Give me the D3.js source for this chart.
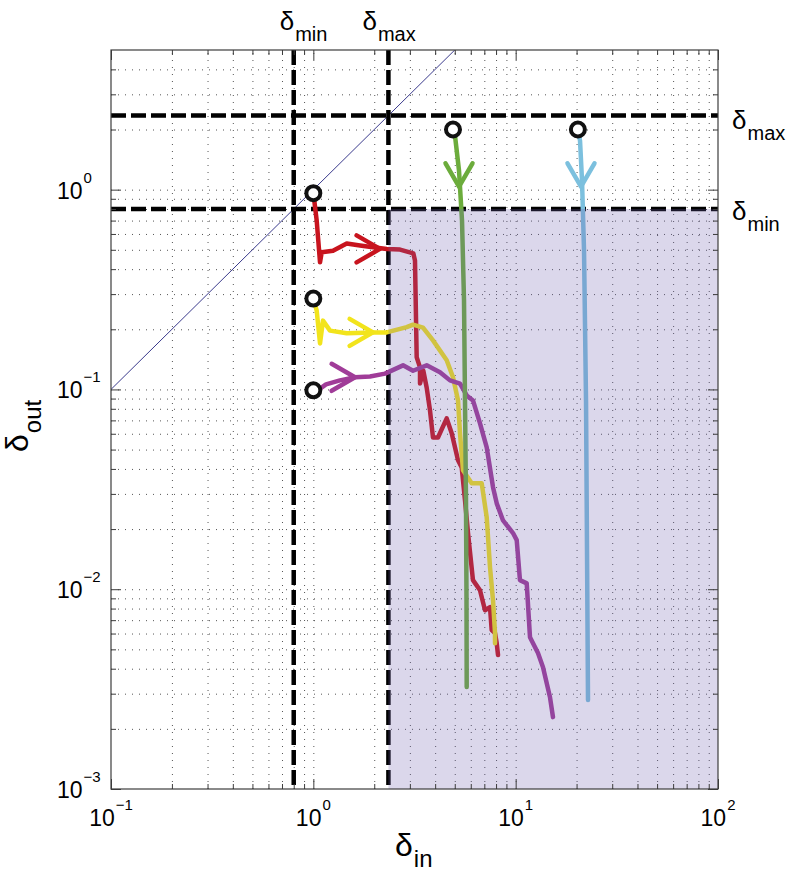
<!DOCTYPE html>
<html><head><meta charset="utf-8">
<script src="https://cdn.jsdelivr.net/npm/d3@7"></script>
<style>
body{margin:0;background:#fff}
svg{display:block}
text{font-family:"Liberation Sans",Arial,Helvetica,sans-serif;fill:#000}
</style>
</head><body>
<svg id="chart" width="787" height="876"></svg>
<script>
// ---------- data ----------
const xDomain = [0.1, 100];
const yDomain = [0.001, 5];
const xMajorTicks = [0.1, 1, 10, 100];
const xTickExponents = ["\u22121", "0", "1", "2"];
const yMajorTicks = [0.001, 0.01, 0.1, 1];
const yTickExponents = ["\u22123", "\u22122", "\u22121", "0"];
const deltaMin = 0.8;
const deltaMax = 2.35;
const diagonalX = [0.1, 5];
const diagonalY = [0.1, 5];

const seriesNames = ["red", "yellow", "purple", "green", "blue"];

const redX = [1.0, 1.011, 1.039, 1.058, 1.079, 1.10, 1.251, 1.462, 1.701, 1.972, 2.305, 2.682, 3.12, 3.18, 3.242, 3.367, 3.367, 3.496, 3.633, 3.772, 3.903, 4.131, 4.562, 4.829, 5.189, 5.412, 5.618, 5.813, 6.152, 6.664, 7.055, 7.467, 7.612, 7.905, 8.060, 8.18];
const redY = [0.96, 0.881, 0.700, 0.556, 0.433, 0.486, 0.495, 0.537, 0.525, 0.515, 0.505, 0.501, 0.480, 0.442, 0.145, 0.129, 0.107, 0.124, 0.102, 0.0785, 0.0575, 0.0575, 0.0716, 0.0603, 0.0442, 0.0407, 0.0279, 0.0191, 0.0111, 0.00989, 0.00785, 0.00813, 0.00624, 0.00603, 0.00537, 0.00468];

const yellowX = [1.0, 1.039, 1.079, 1.116, 1.209, 1.462, 1.972, 2.305, 2.894, 3.109, 3.483, 3.903, 4.562, 4.901, 5.189, 5.308, 5.492, 6.062, 6.794, 7.193, 7.467, 7.727, 7.905, 7.905];
const yellowY = [0.285, 0.248, 0.170, 0.221, 0.197, 0.191, 0.193, 0.193, 0.205, 0.211, 0.204, 0.176, 0.140, 0.115, 0.0881, 0.0603, 0.0394, 0.0339, 0.0339, 0.0229, 0.0129, 0.00881, 0.00603, 0.00537];

const purpleX = [1.0, 1.08, 1.155, 1.354, 1.607, 1.906, 2.261, 2.775, 3.109, 3.633, 4.227, 4.736, 5.308, 5.728, 6.152, 6.664, 7.193, 7.727, 8.060, 8.66, 9.70, 10.12, 10.50, 11.34, 11.77, 12.89, 13.65, 14.78, 15.29];
const purpleY = [0.099, 0.101, 0.106, 0.111, 0.115, 0.116, 0.120, 0.132, 0.124, 0.132, 0.122, 0.111, 0.107, 0.0933, 0.0881, 0.0676, 0.0513, 0.0324, 0.0269, 0.0221, 0.0191, 0.0176, 0.0111, 0.0107, 0.00575, 0.00479, 0.00407, 0.00288, 0.00229];

const greenX = [4.9, 5.014, 5.248, 5.431, 5.555, 5.618, 5.682, 5.715, 5.728];
const greenY = [2.0, 1.862, 1.245, 0.700, 0.279, 0.0881, 0.0279, 0.00881, 0.00324];

const blueX = [20.3, 20.8, 21.28, 21.77, 22.27, 22.52, 22.78];
const blueY = [2.0, 1.758, 1.109, 0.495, 0.0881, 0.0157, 0.00279];

// arrow heads (tip position in data units, pointing direction)
const arrowSeries = ["red", "yellow", "purple", "green", "blue"];
const arrowX = [2.135, 1.972, 1.607, 5.248, 21.03];
const arrowY = [0.505, 0.193, 0.115, 1.035, 1.035];
const arrowDir = ["right", "right", "right", "down", "down"];

// ---------- styles ----------
const colors = {red: "#c8141e", yellow: "#f2e41c", purple: "#a03c98", green: "#6cac3c", blue: "#7cc0de"};
const pLeft = 111, pRight = 718, pTop = 50, pBottom = 789;

const svg = d3.select("#chart");
const x = d3.scaleLog().domain(xDomain).range([pLeft, pRight]);
const y = d3.scaleLog().domain(yDomain).range([pBottom, pTop]);

svg.append("defs").append("clipPath").attr("id", "clip")
  .append("rect").attr("x", pLeft).attr("y", pTop).attr("width", pRight - pLeft).attr("height", pBottom - pTop);

// ---------- grid ----------
const xGridVals = x.ticks().filter(v => v > xDomain[0] * 1.0001 && v < xDomain[1] * 0.9999);
const yGridVals = y.ticks().filter(v => v > yDomain[0] * 1.0001 && v < yDomain[1] * 0.9999);

const grid = svg.append("g").attr("class", "grid");
grid.append("g").attr("transform", `translate(0,${pBottom})`)
  .call(d3.axisBottom(x).tickValues(xGridVals).tickSize(-(pBottom - pTop)).tickFormat(""))
  .call(g => g.select(".domain").remove());
grid.append("g").attr("transform", `translate(${pLeft},0)`)
  .call(d3.axisLeft(y).tickValues(yGridVals).tickSize(-(pRight - pLeft)).tickFormat(""))
  .call(g => g.select(".domain").remove());
grid.selectAll("line").attr("stroke", "#555").attr("stroke-width", 1).attr("stroke-dasharray", "1 6");

const plot = svg.append("g").attr("clip-path", "url(#clip)");

// diagonal
plot.append("line")
  .attr("x1", x(diagonalX[0])).attr("y1", y(diagonalY[0]))
  .attr("x2", x(diagonalX[1])).attr("y2", y(diagonalY[1]))
  .attr("stroke", "#3a3a8c").attr("stroke-width", 1);

// dashed threshold lines
const dashStyle = g => g.attr("stroke", "#000").attr("stroke-width", 4.5).attr("stroke-dasharray", "15 5");
[deltaMin, deltaMax].forEach(v => {
  plot.append("line").attr("x1", x(v)).attr("x2", x(v)).attr("y1", pTop).attr("y2", pBottom).call(dashStyle);
  plot.append("line").attr("x1", pLeft).attr("x2", pRight).attr("y1", y(v)).attr("y2", y(v)).call(dashStyle);
});

// trajectories
const seriesData = {
  red: d3.zip(redX, redY), yellow: d3.zip(yellowX, yellowY), purple: d3.zip(purpleX, purpleY),
  green: d3.zip(greenX, greenY), blue: d3.zip(blueX, blueY)
};
const line = d3.line().x(d => x(d[0])).y(d => y(d[1]));
seriesNames.forEach(n => {
  plot.append("path").attr("d", line(seriesData[n])).attr("fill", "none")
    .attr("stroke", colors[n]).attr("stroke-width", 4.5)
    .attr("stroke-linejoin", "round").attr("stroke-linecap", "round");
});

// arrow heads
const armLen = 27, armAng = Math.PI / 6;
arrowSeries.forEach((n, i) => {
  const tx = x(arrowX[i]), ty = y(arrowY[i]);
  const th = arrowDir[i] === "right" ? 0 : Math.PI / 2;
  const a1 = [tx - armLen * Math.cos(th - armAng), ty - armLen * Math.sin(th - armAng)];
  const a2 = [tx - armLen * Math.cos(th + armAng), ty - armLen * Math.sin(th + armAng)];
  plot.append("path").attr("d", `M${a1[0]},${a1[1]}L${tx},${ty}L${a2[0]},${a2[1]}`)
    .attr("fill", "none").attr("stroke", colors[n]).attr("stroke-width", 4.5)
    .attr("stroke-linejoin", "round").attr("stroke-linecap", "round");
});

// start markers
seriesNames.forEach(n => {
  const d = seriesData[n][0];
  plot.append("circle").attr("cx", x(d[0])).attr("cy", y(d[1])).attr("r", 7)
    .attr("fill", "#fff").attr("stroke", "#111").attr("stroke-width", 4);
});

// shaded region (translucent, on top)
plot.append("rect")
  .attr("x", x(deltaMax)).attr("y", y(deltaMin))
  .attr("width", x(xDomain[1]) - x(deltaMax)).attr("height", y(yDomain[0]) - y(deltaMin))
  .attr("fill", "rgb(112,96,176)").attr("fill-opacity", 0.25);

// ---------- axes box & ticks ----------
const axisColor = "#3c3c3c";
const xMinor = xGridVals.filter(v => !xMajorTicks.some(m => Math.abs(m - v) / m < 1e-6));
const yMinor = yGridVals.filter(v => !yMajorTicks.some(m => Math.abs(m - v) / m < 1e-6));
function tickAxes(axisGen, scale, vals, size, tr) {
  svg.append("g").attr("transform", tr)
    .call(axisGen(scale).tickValues(vals).tickSize(size).tickSizeOuter(0).tickFormat(""))
    .call(g => g.select(".domain").remove())
    .call(g => g.selectAll("line").attr("stroke", axisColor).attr("stroke-width", 1));
}
[[xMinor, -5], [xMajorTicks, -10]].forEach(([v, s]) => {
  tickAxes(d3.axisBottom, x, v, s, `translate(0,${pBottom})`);
  tickAxes(d3.axisTop, x, v, s, `translate(0,${pTop})`);
});
[[yMinor, -5], [yMajorTicks, -10]].forEach(([v, s]) => {
  tickAxes(d3.axisLeft, y, v, s, `translate(${pLeft},0)`);
  tickAxes(d3.axisRight, y, v, s, `translate(${pRight},0)`);
});
svg.append("rect").attr("x", pLeft).attr("y", pTop).attr("width", pRight - pLeft).attr("height", pBottom - pTop)
  .attr("fill", "none").attr("stroke", axisColor).attr("stroke-width", 1.2);

// ---------- tick labels ----------
xMajorTicks.forEach((v, i) => {
  const t = svg.append("text").attr("x", x(v)).attr("y", 826).attr("text-anchor", "middle").attr("font-size", 23);
  t.append("tspan").text("10");
  t.append("tspan").attr("font-size", 15).attr("dx", 1).attr("dy", -16).text(xTickExponents[i]);
});
yMajorTicks.forEach((v, i) => {
  const t = svg.append("text").attr("x", 57).attr("y", y(v) + 9).attr("font-size", 23);
  t.append("tspan").text("10");
  t.append("tspan").attr("font-size", 15).attr("dx", 1).attr("dy", -16).text(yTickExponents[i]);
});

// ---------- labels ----------
function subLabel(px, py, main, sub, mainSize, subSize, subDy) {
  const t = svg.append("text").attr("x", px).attr("y", py).attr("font-size", mainSize);
  t.append("tspan").text(main);
  t.append("tspan").attr("font-size", subSize).attr("dx", 1).attr("dy", subDy).text(sub);
  return t;
}
// top labels
subLabel(x(deltaMin) - 14, 30, "\u03b4", "min", 26, 20, 11);
subLabel(x(deltaMax) - 26, 30, "\u03b4", "max", 26, 20, 11);
// right labels
subLabel(732, y(deltaMax) + 13, "\u03b4", "max", 26, 20, 11);
subLabel(732, y(deltaMin) + 11, "\u03b4", "min", 26, 20, 11);
// x axis label
subLabel(395, 856, "\u03b4", "in", 32, 24, 11);
// y axis label
const yl = svg.append("text").attr("transform", "translate(28,452) rotate(-90)").attr("font-size", 32);
yl.append("tspan").text("\u03b4");
yl.append("tspan").attr("font-size", 24).attr("dx", 1).attr("dy", 13).text("out");
</script>
</body></html>
